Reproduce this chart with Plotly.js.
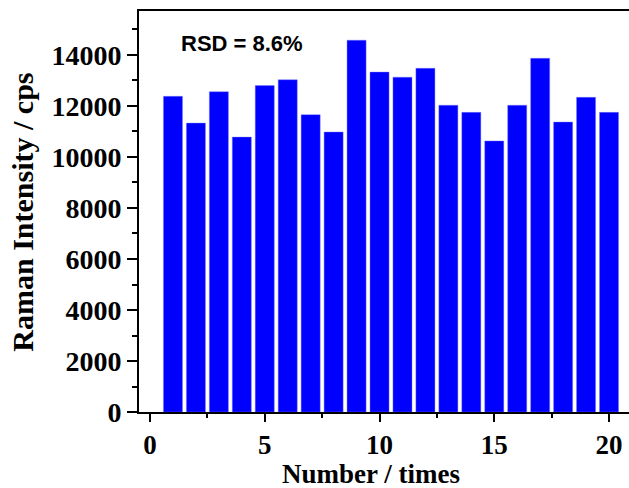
<!DOCTYPE html>
<html>
<head>
<meta charset="utf-8">
<script src="https://cdn.plot.ly/plotly-3.0.1.min.js"></script>
<style>
html,body{margin:0;padding:0;overflow:hidden;background:#fff;width:629px;height:488px;}
#chart{position:absolute;left:0;top:0;width:680px;height:488px;}
</style>
</head>
<body>
<div id="chart"></div>
<script>
var runs = [1,2,3,4,5,6,7,8,9,10,11,12,13,14,15,16,17,18,19,20];
var intensity = [12380,11330,12560,10780,12800,13030,11660,10980,14580,13330,13130,13480,12030,11750,10630,12030,13870,11370,12340,11750];
var xTickVals = [0,5,10,15,20];
var yTickVals = [0,2000,4000,6000,8000,10000,12000,14000];
var yTickText = ['0','2000','4000','6000','8000','10000','12000','14000'];
var rsdLabel = 'RSD = 8.6%';
var xTitle = 'Number / times';
var yTitle = 'Raman Intensity / cps';

var serif = 'Liberation Serif, Times New Roman, serif';
var sans = 'Liberation Sans, Arial, sans-serif';

var trace = {
  type: 'bar',
  x: runs,
  y: intensity,
  width: 0.83,
  marker: {color: '#0000ff', line: {color: 'rgba(120,120,255,0.7)', width: 0.6}},
  hoverinfo: 'x+y'
};

var axisCommon = {
  showline: true, linecolor: '#000', linewidth: 2, mirror: true,
  ticks: 'outside', tickcolor: '#000', tickwidth: 2,
  showgrid: false, zeroline: false
};

var layout = {
  autosize: false,
  width: 680, height: 488,
  margin: {l: 139, r: 40, t: 11, b: 76},
  paper_bgcolor: '#fff', plot_bgcolor: '#fff',
  showlegend: false,
  xaxis: Object.assign({}, axisCommon, {
    range: [-0.48, 21.35],
    tickmode: 'array', tickvals: xTickVals,
    ticklen: 8,
    tickfont: {family: serif, size: 27, color: '#000', weight: 'bold'},
    minor: {dtick: 2.5, tick0: 0, ticks: 'outside', ticklen: 4, tickwidth: 2, tickcolor: '#000', showgrid: false}
  }),
  yaxis: Object.assign({}, axisCommon, {
    range: [0, 15725],
    tickmode: 'array', tickvals: yTickVals, ticktext: yTickText,
    ticklen: 10,
    tickfont: {family: serif, size: 28, color: '#000', weight: 'bold'},
    minor: {dtick: 1000, tick0: 0, ticks: 'outside', ticklen: 5, tickwidth: 2, tickcolor: '#000', showgrid: false}
  }),
  annotations: [
    {text: rsdLabel, xref: 'paper', yref: 'paper', x: (179-139)/501, y: 0.918, xanchor: 'left', yanchor: 'middle',
     showarrow: false, font: {family: sans, size: 22, color: '#000', weight: 'bold'}},
    {text: xTitle, xref: 'paper', yref: 'paper', x: (371-139)/501, y: -0.155, xanchor: 'center', yanchor: 'middle',
     showarrow: false, font: {family: serif, size: 27, color: '#000', weight: 'bold'}},
    {text: yTitle, xref: 'paper', yref: 'paper', x: (23-139)/501, y: 0.497, xanchor: 'center', yanchor: 'middle',
     textangle: -90, showarrow: false, font: {family: serif, size: 30, color: '#000', weight: 'bold'}}
  ]
};

Plotly.newPlot('chart', [trace], layout, {displayModeBar: false, staticPlot: true});
</script>
</body>
</html>
